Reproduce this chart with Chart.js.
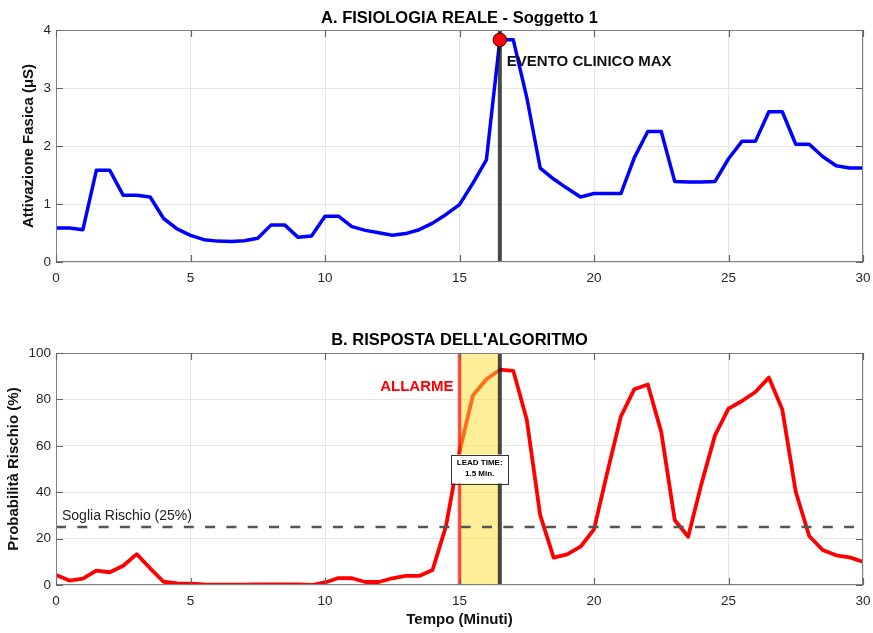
<!DOCTYPE html>
<html>
<head>
<meta charset="utf-8">
<script src="https://cdn.jsdelivr.net/npm/chart.js@4.4.1/dist/chart.umd.min.js"></script>
<style>
  html, body { margin: 0; padding: 0; background: #fff; }
  #wrap { position: relative; width: 873px; height: 633px; }
  canvas { position: absolute; left: 0; }
  #chartA { top: 0; }
  #chartB { top: 320px; }
</style>
</head>
<body>
<div id="wrap">
  <canvas id="chartA" width="873" height="300"></canvas>
  <canvas id="chartB" width="873" height="313"></canvas>
</div>
<script>
// Time axis (minutes), sampled every half minute
const minutes = [
  0, 0.5, 1, 1.5, 2, 2.5, 3, 3.5, 4, 4.5,
  5, 5.5, 6, 6.5, 7, 7.5, 8, 8.5, 9, 9.5,
  10, 10.5, 11, 11.5, 12, 12.5, 13, 13.5, 14, 14.5,
  15, 15.5, 16, 16.5, 17, 17.5, 18, 18.5, 19, 19.5,
  20, 20.5, 21, 21.5, 22, 22.5, 23, 23.5, 24, 24.5,
  25, 25.5, 26, 26.5, 27, 27.5, 28, 28.5, 29, 29.5, 30
];

// Phasic skin conductance activation (µS)
const activation = [
  0.585, 0.585, 0.557, 1.58, 1.58, 1.15, 1.15, 1.12, 0.75, 0.57,
  0.46, 0.385, 0.36, 0.355, 0.367, 0.41, 0.64, 0.64, 0.425, 0.45,
  0.79, 0.79, 0.61, 0.545, 0.505, 0.46, 0.49, 0.557, 0.67, 0.82,
  0.99, 1.36, 1.76, 3.83, 3.83, 2.84, 1.62, 1.43, 1.27, 1.12,
  1.18, 1.18, 1.18, 1.80, 2.25, 2.25, 1.39, 1.38, 1.38, 1.39,
  1.78, 2.08, 2.08, 2.59, 2.59, 2.03, 2.03, 1.82, 1.66, 1.62, 1.62
];

// Algorithm risk probability (%)
const risk = [
  4.3, 1.9, 2.7, 6.2, 5.5, 8.3, 13.3, 7.2, 1.4, 0.7,
  0.6, 0.3, 0.2, 0.1, 0.1, 0.3, 0.3, 0.3, 0.3, 0.0,
  1.1, 3.0, 2.9, 1.3, 1.3, 2.9, 3.9, 3.9, 6.5, 25.5,
  57.4, 81.8, 88.7, 92.8, 92.3, 71.3, 30.1, 11.8, 13.2, 16.5,
  24.0, 48.8, 72.7, 84.4, 86.4, 66.0, 28.0, 20.8, 43.8, 64.6,
  76.0, 79.3, 83.2, 89.4, 75.6, 40.2, 21.1, 15.1, 12.8, 11.9, 10.0
];

const xTicks = [0, 5, 10, 15, 20, 25, 30];
const yTicksA = [0, 1, 2, 3, 4];
const yTicksB = [0, 20, 40, 60, 80, 100];

const ALARM_T = 15;      // alarm raised by the algorithm
const EVENT_T = 16.5;    // clinical event peak
const THRESHOLD = 25;    // risk threshold (%)
const LEAD_MIN = EVENT_T - ALARM_T;

const FONT = '"Liberation Sans", Arial, Helvetica, sans-serif';
const TICK_COLOR = '#262626';

function points(ys) { return minutes.map((t, i) => ({ x: t, y: ys[i] })); }

// Axes box with inward tick marks and the panel title
const framePlugin = {
  id: 'frame',
  afterDraw(chart, args, opts) {
    const { ctx, chartArea: a, scales: { x, y } } = chart;
    ctx.save();
    ctx.strokeStyle = '#808080';
    ctx.lineWidth = 1;
    ctx.strokeRect(a.left + 0.5, a.top + 0.5, a.right - a.left - 1, a.bottom - a.top - 1);
    ctx.strokeStyle = '#666';
    ctx.lineWidth = 1.2;
    ctx.beginPath();
    x.ticks.forEach(t => {
      const px = Math.round(x.getPixelForValue(t.value)) + 0.5;
      ctx.moveTo(px, a.bottom); ctx.lineTo(px, a.bottom - 7);
      ctx.moveTo(px, a.top); ctx.lineTo(px, a.top + 7);
    });
    y.ticks.forEach(t => {
      const py = Math.round(y.getPixelForValue(t.value)) + 0.5;
      ctx.moveTo(a.left, py); ctx.lineTo(a.left + 7, py);
      ctx.moveTo(a.right, py); ctx.lineTo(a.right - 7, py);
    });
    ctx.stroke();
    ctx.fillStyle = '#000';
    ctx.font = 'bold 16.5px ' + FONT;
    ctx.textAlign = 'center';
    ctx.textBaseline = 'middle';
    ctx.fillText(opts.title, (a.left + a.right) / 2, opts.titleY);
    ctx.restore();
  }
};

// Panel A: event marker line, peak dot and label
const eventPlugin = {
  id: 'eventA',
  afterDatasetsDraw(chart) {
    const { ctx, chartArea: a, scales: { x, y } } = chart;
    const ex = x.getPixelForValue(EVENT_T);
    const peak = activation[minutes.indexOf(EVENT_T)];
    ctx.save();
    ctx.strokeStyle = 'rgba(20,20,20,0.78)';
    ctx.lineWidth = 4;
    ctx.beginPath();
    ctx.moveTo(ex, a.top); ctx.lineTo(ex, a.bottom);
    ctx.stroke();
    ctx.beginPath();
    ctx.arc(ex, y.getPixelForValue(peak), 6.8, 0, Math.PI * 2);
    ctx.fillStyle = '#ff0000';
    ctx.fill();
    ctx.strokeStyle = '#3a0000';
    ctx.lineWidth = 1;
    ctx.stroke();
    ctx.fillStyle = '#111';
    ctx.font = 'bold 15px ' + FONT;
    ctx.textAlign = 'left';
    ctx.textBaseline = 'middle';
    ctx.fillText('EVENTO CLINICO MAX', ex + 7, y.getPixelForValue(3.45));
    ctx.restore();
  }
};

// Panel B: lead-time band, alarm/event lines, threshold and annotations
const alarmPlugin = {
  id: 'alarmB',
  afterDatasetsDraw(chart) {
    const { ctx, chartArea: a, scales: { x, y } } = chart;
    const ax = x.getPixelForValue(ALARM_T);
    const ex = x.getPixelForValue(EVENT_T);
    ctx.save();
    ctx.fillStyle = 'rgba(255,222,50,0.5)';
    ctx.fillRect(ax, a.top, ex - ax, a.bottom - a.top);

    ctx.lineWidth = 3.5;
    ctx.strokeStyle = 'rgba(255,0,0,0.68)';
    ctx.beginPath(); ctx.moveTo(ax, a.top); ctx.lineTo(ax, a.bottom); ctx.stroke();
    ctx.lineWidth = 4;
    ctx.strokeStyle = 'rgba(20,20,20,0.78)';
    ctx.beginPath(); ctx.moveTo(ex, a.top); ctx.lineTo(ex, a.bottom); ctx.stroke();

    const ty = y.getPixelForValue(THRESHOLD);
    ctx.strokeStyle = '#555';
    ctx.lineWidth = 2.5;
    ctx.setLineDash([10, 11.3]);
    ctx.beginPath();
    ctx.moveTo(x.getPixelForValue(0), ty); ctx.lineTo(x.getPixelForValue(30) - 6, ty);
    ctx.stroke();
    ctx.setLineDash([]);

    ctx.fillStyle = '#222';
    ctx.font = '14px ' + FONT;
    ctx.textAlign = 'left';
    ctx.textBaseline = 'middle';
    ctx.fillText('Soglia Rischio (' + THRESHOLD + '%)', x.getPixelForValue(0) + 6, ty - 11);

    ctx.fillStyle = '#ff0000';
    ctx.font = 'bold 15px ' + FONT;
    ctx.textAlign = 'right';
    ctx.fillText('ALLARME', ax - 6, y.getPixelForValue(85.5));

    const cx = x.getPixelForValue(ALARM_T + LEAD_MIN / 2);
    const cy = y.getPixelForValue(50);
    const bw = 57, bh = 29;
    ctx.fillStyle = '#fff';
    ctx.fillRect(cx - bw / 2, cy - bh / 2, bw, bh);
    ctx.strokeStyle = '#333';
    ctx.lineWidth = 1;
    ctx.strokeRect(Math.round(cx - bw / 2) + 0.5, Math.round(cy - bh / 2) + 0.5, bw, bh);
    ctx.fillStyle = '#000';
    ctx.font = 'bold 8px ' + FONT;
    ctx.textAlign = 'center';
    ctx.fillText('LEAD TIME:', cx, cy - 6);
    ctx.fillText(LEAD_MIN + ' Min.', cx, cy + 5);
    ctx.restore();
  }
};

function xScale(showTitle) {
  return {
    type: 'linear', min: 0, max: 30,
    afterBuildTicks: s => { s.ticks = xTicks.map(v => ({ value: v })); },
    afterFit: s => { s.height = showTitle ? 48 : 38; s.paddingLeft = 0; s.paddingRight = 0; },
    grid: { color: '#e6e6e6', lineWidth: 1, drawTicks: false },
    border: { display: false },
    ticks: { color: TICK_COLOR, padding: 8, font: { family: FONT, size: 13.5 }, maxRotation: 0 },
    title: {
      display: showTitle, text: 'Tempo (Minuti)', color: '#111',
      font: { family: FONT, size: 15, weight: 'bold' }, padding: { top: 0, bottom: 4 }
    }
  };
}

function yScale(min, max, ticks, label, titlePad) {
  return {
    type: 'linear', min: min, max: max,
    afterBuildTicks: s => { s.ticks = ticks.map(v => ({ value: v })); },
    afterFit: s => { s.width = 56; },
    grid: { color: '#e6e6e6', lineWidth: 1, drawTicks: false },
    border: { display: false },
    ticks: { color: TICK_COLOR, padding: 5, font: { family: FONT, size: 13.5 } },
    title: {
      display: true, text: label, color: '#111',
      font: { family: FONT, size: 15, weight: 'bold' }, padding: { top: titlePad, bottom: 0 }
    }
  };
}

const common = {
  responsive: false,
  animation: false,
  devicePixelRatio: 1,
  events: [],
  elements: { point: { radius: 0 } }
};

new Chart(document.getElementById('chartA'), {
  type: 'line',
  data: {
    datasets: [{
      data: points(activation),
      borderColor: '#0000ff',
      borderWidth: 3.5,
      borderJoinStyle: 'round',
      tension: 0,
      fill: false
    }]
  },
  options: Object.assign({}, common, {
    layout: { padding: { top: 30, right: 10, left: 0, bottom: 0 } },
    scales: {
      x: xScale(false),
      y: yScale(0, 4, yTicksA, 'Attivazione Fasica (μS)', 20)
    },
    plugins: {
      legend: { display: false },
      tooltip: { enabled: false },
      frame: { title: 'A. FISIOLOGIA REALE - Soggetto 1', titleY: 18 }
    }
  }),
  plugins: [eventPlugin, framePlugin]
});

new Chart(document.getElementById('chartB'), {
  type: 'line',
  data: {
    datasets: [{
      data: points(risk),
      borderColor: '#ff0000',
      borderWidth: 3.8,
      borderJoinStyle: 'round',
      tension: 0,
      fill: false
    }]
  },
  options: Object.assign({}, common, {
    layout: { padding: { top: 33, right: 10, left: 0, bottom: 0 } },
    scales: {
      x: xScale(true),
      y: yScale(0, 100, yTicksB, 'Probabilità Rischio (%)', 5)
    },
    plugins: {
      legend: { display: false },
      tooltip: { enabled: false },
      frame: { title: "B. RISPOSTA DELL'ALGORITMO", titleY: 20 }
    }
  }),
  plugins: [alarmPlugin, framePlugin]
});
</script>
</body>
</html>
